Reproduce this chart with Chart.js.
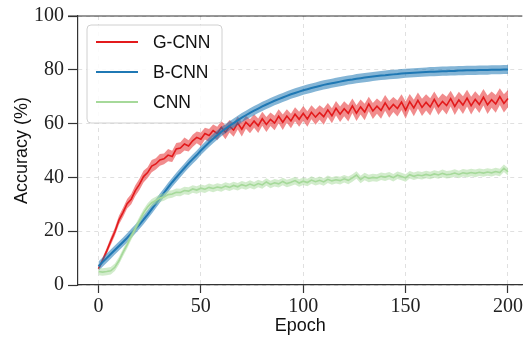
<!DOCTYPE html>
<html>
<head>
<meta charset="utf-8">
<script src="https://cdn.jsdelivr.net/npm/chart.js@4/dist/chart.umd.min.js"></script>
<style>
  html, body { margin: 0; padding: 0; background: #fff; }
  #wrap { width: 525px; height: 337px; }
</style>
</head>
<body>
<div id="wrap"><canvas id="acc"></canvas></div>
<script>
// epochs 0..200, every second epoch
const epochs = Array.from({ length: 101 }, (_, i) => i * 2);

const seriesNames = ['G-CNN', 'B-CNN', 'CNN'];
const xTicks = [0, 50, 100, 150, 200];

// mean accuracy (%)
const gcnn = [
    6.0, 9.2, 12.6, 16.3, 19.8, 24.1, 27.0, 30.2, 31.9, 35.1,
    37.4, 40.3, 41.8, 44.2, 45.0, 46.5, 46.9, 48.3, 47.8, 50.6,
    50.9, 52.4, 51.7, 53.6, 54.9, 54.2, 56.3, 55.6, 57.4, 56.3,
    58.6, 56.8, 59.0, 57.6, 60.2, 57.9, 60.5, 59.0, 61.0, 59.2,
    61.8, 59.7, 61.6, 60.2, 62.7, 60.5, 62.8, 61.0, 63.5, 61.6,
    63.8, 61.7, 64.2, 62.4, 64.1, 62.6, 65.1, 62.9, 65.7, 63.5,
    65.5, 63.8, 66.6, 63.9, 66.2, 64.3, 67.3, 64.7, 66.5, 64.9,
    67.7, 65.3, 67.1, 65.6, 68.0, 65.0, 68.2, 65.8, 68.6, 66.0,
    67.9, 66.2, 69.0, 66.3, 68.2, 66.7, 69.3, 66.4, 68.8, 66.9,
    69.5, 66.7, 69.0, 67.1, 69.8, 67.0, 68.9, 67.3, 70.0, 67.5,
    69.3
];
const gcnnStd = [
    0.8, 1.0, 1.2, 1.4, 1.5, 1.6, 1.7, 1.8, 1.9, 2.0,
    2.1, 2.2, 2.0, 2.3, 2.1, 2.2, 2.0, 2.3, 2.1, 2.2,
    2.2, 2.4, 2.1, 2.3, 2.2, 2.5, 2.2, 2.4, 2.3, 2.5,
    2.4, 2.6, 2.3, 2.5, 2.4, 2.7, 2.4, 2.6, 2.5, 2.7,
    2.6, 2.8, 2.5, 2.7, 2.6, 2.9, 2.5, 2.7, 2.6, 2.8,
    2.7, 2.9, 2.6, 2.8, 2.7, 3.0, 2.6, 2.8, 2.7, 2.9,
    2.8, 3.0, 2.7, 2.9, 2.8, 3.1, 2.7, 3.0, 2.8, 3.1,
    2.9, 3.1, 2.8, 3.0, 2.9, 3.2, 2.8, 3.1, 3.0, 3.2,
    3.0, 3.2, 2.9, 3.1, 3.0, 3.3, 2.9, 3.2, 3.0, 3.3,
    3.1, 3.3, 3.0, 3.2, 3.1, 3.4, 3.0, 3.3, 3.1, 3.4,
    3.2
];
const bcnn = [
    7.0, 8.5, 10.0, 11.5, 13.0, 14.5, 16.0, 17.5, 19.2, 20.8,
    22.5, 24.3, 26.2, 28.2, 30.2, 32.3, 34.3, 36.3, 38.2, 40.0,
    41.8, 43.5, 45.2, 46.8, 48.3, 50.0, 51.5, 53.0, 54.4, 55.7,
    57.0, 58.1, 59.2, 60.2, 61.2, 62.2, 63.1, 64.0, 64.8, 65.6,
    66.4, 67.1, 67.8, 68.5, 69.1, 69.7, 70.3, 70.9, 71.4, 71.9,
    72.4, 72.8, 73.2, 73.6, 74.0, 74.4, 74.7, 75.0, 75.3, 75.6,
    75.9, 76.2, 76.4, 76.7, 76.9, 77.1, 77.3, 77.5, 77.7, 77.9,
    78.0, 78.2, 78.3, 78.4, 78.6, 78.7, 78.8, 78.9, 79.0, 79.1,
    79.2, 79.3, 79.3, 79.4, 79.5, 79.5, 79.6, 79.6, 79.7, 79.7,
    79.8, 79.8, 79.8, 79.9, 79.9, 79.9, 80.0, 80.0, 80.0, 80.1,
    80.1
];
const bcnnStd = 1.7;
const cnn = [
    5.0, 4.8, 5.0, 5.3, 6.6, 9.0, 12.1, 15.0, 18.1, 21.0,
    24.0, 26.8, 29.0, 30.6, 31.4, 32.3, 32.7, 33.6, 33.8, 34.5,
    34.4, 35.1, 34.9, 35.7, 35.3, 36.0, 35.6, 36.3, 35.9, 36.4,
    36.1, 36.8, 36.3, 37.0, 36.5, 37.3, 36.8, 37.5, 36.9, 37.7,
    37.2, 38.3, 37.4, 38.0, 37.6, 38.5, 37.7, 38.2, 38.8, 37.9,
    38.6, 38.1, 39.0, 38.4, 38.9, 38.3, 39.3, 38.7, 39.1, 38.8,
    39.5, 38.9, 39.8, 40.9, 39.2, 40.3, 39.6, 40.0, 39.8, 40.4,
    40.1, 40.6, 39.9, 40.8, 40.3, 39.8, 41.0, 40.4, 40.9, 40.6,
    41.1, 40.7, 41.3, 40.9, 41.5, 41.0, 41.2, 41.6, 41.1, 41.7,
    41.4, 41.8, 41.5, 41.9, 41.6, 42.0, 41.7, 42.2, 41.8, 43.4,
    42.1
];
const cnnStd = 1.4;

const lineColors = ['#e31a1c', '#1f78b4', '#a6d99a'];
const bandColors = ['rgba(227,26,28,0.5)', 'rgba(31,120,180,0.55)', 'rgba(166,217,154,0.5)'];
const lineWidths = [1.6, 2, 1.6];

function pts(vals, off) {
    return vals.map((v, i) => ({ x: epochs[i], y: v + off(i) }));
}

const means = [gcnn, bcnn, cnn];
const spreads = [i => gcnnStd[i], () => bcnnStd, () => cnnStd];

const datasets = [];
means.forEach((m, k) => {
    const base = 9 - k * 3;
    datasets.push({
        label: seriesNames[k] + ' upper',
        data: pts(m, i => spreads[k](i)),
        borderWidth: 0, pointRadius: 0, fill: false, order: base
    });
    datasets.push({
        label: seriesNames[k] + ' lower',
        data: pts(m, i => -spreads[k](i)),
        borderWidth: 0, pointRadius: 0, fill: '-1',
        backgroundColor: bandColors[k], order: base - 1
    });
    datasets.push({
        label: seriesNames[k],
        data: pts(m, () => 0),
        borderColor: lineColors[k], borderWidth: lineWidths[k],
        pointRadius: 0, fill: false, order: base - 2
    });
});

const tickFont = { family: 'Liberation Serif', size: 20 };
const titleFont = { family: 'Liberation Sans', size: 18 };

// top spine + legend box
const decor = {
    id: 'decor',
    afterDraw(chart) {
        const ctx = chart.ctx;
        const a = chart.chartArea;
        ctx.save();
        ctx.strokeStyle = '#333';
        ctx.lineWidth = 1.2;
        ctx.beginPath();
        ctx.moveTo(a.left - 10, a.top);
        ctx.lineTo(a.right, a.top);
        ctx.stroke();

        // legend
        const bx = 87, by = 25, bw = 135, bh = 98, r = 4;
        ctx.beginPath();
        ctx.roundRect(bx, by, bw, bh, r);
        ctx.fillStyle = 'rgba(255,255,255,0.85)';
        ctx.fill();
        ctx.strokeStyle = '#d0d0d0';
        ctx.lineWidth = 1;
        ctx.stroke();
        ctx.font = '17.5px "Liberation Sans"';
        ctx.textBaseline = 'middle';
        seriesNames.forEach((name, k) => {
            const y = 42 + k * 30;
            ctx.strokeStyle = lineColors[k];
            ctx.lineWidth = 2;
            ctx.beginPath();
            ctx.moveTo(96, y);
            ctx.lineTo(138, y);
            ctx.stroke();
            ctx.fillStyle = '#111';
            ctx.fillText(name, 153, y + 1);
        });
        ctx.restore();
    }
};

new Chart(document.getElementById('acc'), {
    type: 'line',
    data: { datasets: datasets },
    options: {
        responsive: true,
        maintainAspectRatio: false,
        animation: false,
        layout: { padding: { top: 15, right: 0, left: 0, bottom: 0 } },
        plugins: {
            legend: { display: false },
            tooltip: { enabled: false }
        },
        scales: {
            x: {
                type: 'linear',
                min: -10,
                max: 207,
                afterBuildTicks: s => { s.ticks = xTicks.map(v => ({ value: v })); },
                afterFit: s => { s.height = 52; },
                ticks: { font: tickFont, color: '#222', padding: 2, maxRotation: 0 },
                grid: {
                    color: 'rgba(0,0,0,0.12)', tickColor: '#333', tickLength: 8,
                    tickWidth: 1.2, tickBorderDash: []
                },
                border: { color: '#333', width: 1.2, dash: [4, 4] },
                title: { display: true, text: 'Epoch', font: titleFont, color: '#111', padding: { top: 0, bottom: 0 } }
            },
            y: {
                min: 0,
                max: 100,
                ticks: { stepSize: 20, font: tickFont, color: '#222', padding: 4 },
                afterFit: s => { s.width = 78; },
                grid: {
                    color: 'rgba(0,0,0,0.12)', tickColor: '#333', tickLength: 10,
                    tickWidth: 1.2, tickBorderDash: []
                },
                border: { color: '#333', width: 1.2, dash: [4, 4] },
                title: { display: true, text: 'Accuracy (%)', font: titleFont, color: '#111', padding: { top: 11, bottom: 0 } }
            }
        }
    },
    plugins: [decor]
});
</script>
</body>
</html>
